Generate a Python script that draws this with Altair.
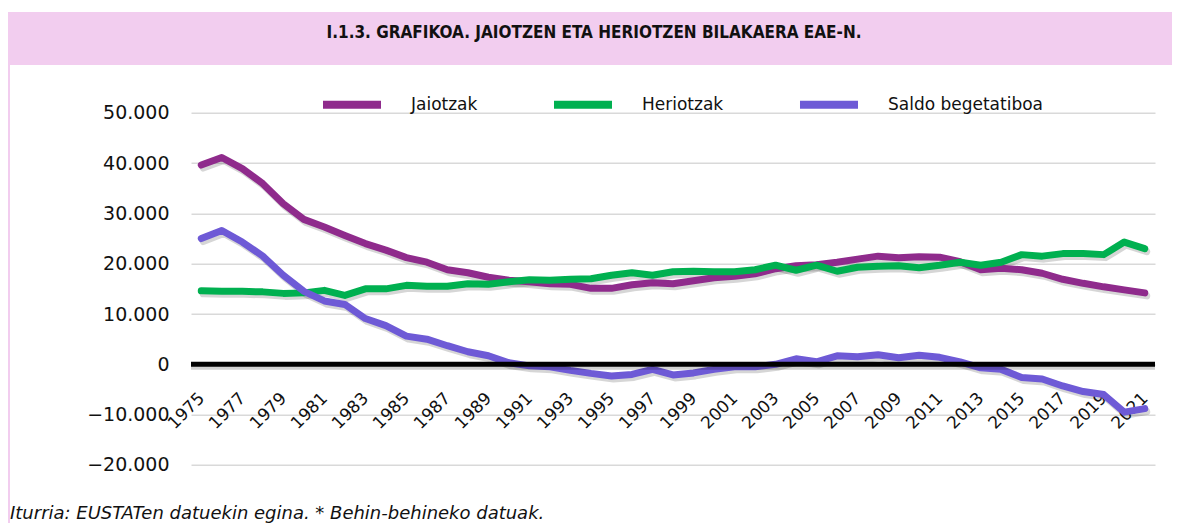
import altair as alt
import pandas as pd

years = list(range(1975, 2022))
jaiotzak = [39600, 41100, 38900, 35900, 31900, 28800, 27300, 25600, 24000, 22700,
            21200, 20300, 18800, 18200, 17300, 16700, 16400, 16000, 15900, 15100,
            15100, 15800, 16200, 16000, 16600, 17200, 17500, 18000, 19000, 19600,
            19800, 20300, 20900, 21500, 21200, 21400, 21300, 20400, 18800, 19100,
            18800, 18100, 16900, 16100, 15400, 14800, 14200]
heriotzak = [14600, 14500, 14500, 14400, 14100, 14200, 14700, 13700, 15000, 15000,
             15700, 15500, 15500, 16000, 15900, 16400, 16800, 16700, 16900, 17000,
             17700, 18200, 17700, 18400, 18500, 18400, 18400, 18800, 19700, 18700,
             19700, 18500, 19300, 19500, 19600, 19200, 19700, 20300, 19700, 20300,
             21800, 21500, 22000, 22000, 21800, 24300, 23000]
saldo = [25000, 26600, 24300, 21500, 17700, 14500, 12600, 11900, 9100, 7700,
         5600, 5000, 3700, 2500, 1700, 300, -300, -500, -1200, -1800,
         -2300, -2000, -1000, -2100, -1700, -1000, -500, -500, 0, 1100,
         500, 1700, 1500, 1900, 1300, 1800, 1400, 500, -700, -1000,
         -2600, -2900, -4300, -5400, -6000, -9500, -8800]
series_names = ["Jaiotzak", "Heriotzak", "Saldo begetatiboa"]
series_colors = ["#8F2B8C", "#00B050", "#6E5AD6"]
y_ticks = [-20000, -10000, 0, 10000, 20000, 30000, 40000, 50000]
x_label_years = years[::2]
title_text = "I.1.3. GRAFIKOA. JAIOTZEN ETA HERIOTZEN BILAKAERA EAE-N."
source_text = "Iturria: EUSTATen datuekin egina. * Behin-behineko datuak."

rows = []
for name, vals in zip(series_names, [jaiotzak, heriotzak, saldo]):
    for yr, v in zip(years, vals):
        rows.append({"urtea": yr, "seriea": name, "balioa": v})
df = pd.DataFrame(rows)

W, H = 964, 352.3
PL, PT, PR, PB = 183, 104.7, 17, 58.3
zero_from_bottom = H * 20000 / 70000

x_enc = alt.X(
    "urtea:O",
    scale=alt.Scale(type="point", padding=0.5),
    axis=alt.Axis(
        values=x_label_years, labelAngle=-45, labelAlign="right", labelBaseline="middle",
        labelFont="DejaVu Sans", labelFontSize=17, labelColor="#111", labelPadding=31,
        ticks=False, domain=False, grid=False, title=None, offset=-zero_from_bottom,
    ),
)
y_scale = alt.Scale(domain=[-20000, 50000], nice=False, zero=False)
y_enc = alt.Y(
    "balioa:Q",
    scale=y_scale,
    axis=alt.Axis(
        values=y_ticks, labelExpr="replace(format(datum.value, ','), ',', '.')",
        grid=True, gridColor="#D9D9D9", gridWidth=1.5, domain=False, ticks=False,
        labelFont="DejaVu Sans", labelFontSize=19, labelColor="#111", labelPadding=22,
        title=None,
    ),
)
color_enc = alt.Color(
    "seriea:N",
    scale=alt.Scale(domain=series_names, range=series_colors),
    legend=alt.Legend(
        orient="none", legendX=128, legendY=-41, direction="horizontal", columns=3,
        gridAlign="none", symbolType="stroke", symbolSize=3364, symbolStrokeWidth=8,
        labelFont="DejaVu Sans", labelFontSize=17, labelColor="#111", labelOffset=26,
        columnPadding=60, title=None,
    ),
)

base = alt.Chart(df)
shadow = base.mark_line(strokeWidth=7, color="#000", opacity=0.16, xOffset=2, yOffset=3,
                        strokeCap="round", strokeJoin="round").encode(
    x=x_enc, y=y_enc, detail="seriea:N")
lines = base.mark_line(strokeWidth=7, strokeCap="round", strokeJoin="round").encode(
    x=x_enc, y=y_enc, color=color_enc)

one = pd.DataFrame({"a": [0]})
zero_shadow = alt.Chart(one).mark_rule(color="#000", opacity=0.18, strokeWidth=5, yOffset=3).encode(
    y=alt.datum(0))
zero_rule = alt.Chart(one).mark_rule(color="#000", strokeWidth=5).encode(y=alt.datum(0))

banner = alt.Chart(one).mark_rect(color="#F2CDEF").encode(
    x=alt.value(-PL), x2=alt.value(W + PR), y=alt.value(-PT + 4), y2=alt.value(-47.7))
border = alt.Chart(one).mark_rule(color="#F2CDEF", strokeWidth=2).encode(
    x=alt.value(-PL + 1), y=alt.value(-47.7), y2=alt.value(H + PB))
title = alt.Chart(one).mark_text(
    font="DejaVu Sans Condensed", fontWeight="bold", fontSize=17, color="#111",
    align="center", baseline="middle").encode(
    x=alt.value((W + PR - PL) / 2 + 4), y=alt.value(-79.7), text=alt.value(title_text))
source = alt.Chart(one).mark_text(
    font="DejaVu Sans", fontStyle="italic", fontSize=18, color="#111",
    align="left", baseline="middle").encode(
    x=alt.value(-PL + 2), y=alt.value(401.5), text=alt.value(source_text))

chart = alt.layer(
    banner, border, title, source, shadow, lines, zero_shadow, zero_rule
).properties(
    width=W, height=H,
    autosize=alt.AutoSizeParams(type="none"),
    padding={"left": PL, "top": PT, "right": PR, "bottom": PB},
).configure_view(stroke=None)

chart.save("out.html", embed_options={"renderer": "svg", "actions": False})
